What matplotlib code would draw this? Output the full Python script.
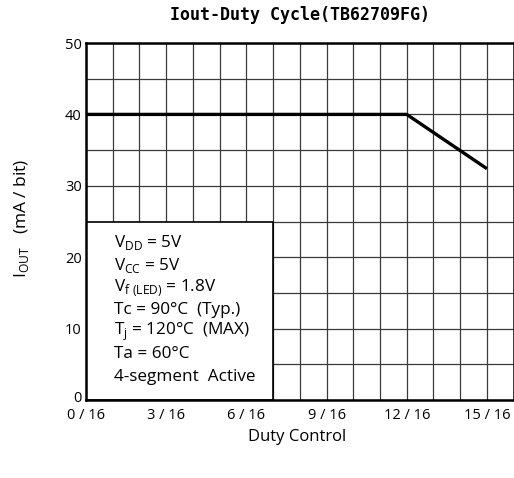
import matplotlib
matplotlib.use("Agg")
import matplotlib.pyplot as plt
from matplotlib.patches import Rectangle
from matplotlib.transforms import ScaledTranslation

duty = [0, 12, 15]
iout = [40, 40, 32.4]
xtick_pos = [0, 3, 6, 9, 12, 15]
xtick_labels = ["0 / 16", "3 / 16", "6 / 16", "9 / 16", "12 / 16", "15 / 16"]
ytick_pos = [0, 10, 20, 30, 40, 50]
cond_lines = [
    r"V$_{\rm DD}$ = 5V",
    r"V$_{\rm CC}$ = 5V",
    r"V$_{\rm f\ (LED)}$ = 1.8V",
    "Tc = 90°C  (Typ.)",
    r"T$_{\rm j}$ = 120°C  (MAX)",
    "Ta = 60°C",
    "4-segment  Active",
]

plt.rcParams['font.family'] = ['Open Sans', 'DejaVu Sans']
plt.rcParams['mathtext.fontset'] = 'custom'
plt.rcParams['mathtext.rm'] = 'Open Sans'

fig = plt.figure(figsize=(5.14, 4.78), dpi=100)
ax = fig.add_axes([0.1673, 0.1632, 0.832, 0.7468])
ax.set_xlim(0, 16)
ax.set_ylim(0, 50)

ax.set_xticks(xtick_pos)
ax.set_xticklabels(xtick_labels, fontsize=10.5)
ax.set_xticks(range(0, 17), minor=True)
ax.set_yticks(ytick_pos)
ax.set_yticklabels([str(v) for v in ytick_pos], fontsize=10.5)
ax.set_yticks(range(5, 50, 10), minor=True)
ax.tick_params(which='both', length=0)
ax.tick_params(axis='x', pad=6)
ax.tick_params(axis='y', pad=3)
ax.set_axisbelow(True)
ax.grid(which='both', color='#3a3a3a', linewidth=0.9)

# nudge the y "0" label up slightly so it does not touch "0 / 16"
zero_lbl = ax.get_yticklabels()[0]
zero_lbl.set_transform(zero_lbl.get_transform() +
                       ScaledTranslation(0, 3 / 100, fig.dpi_scale_trans))

ax.add_patch(Rectangle((0, 0), 7, 25, facecolor='white', edgecolor='black',
                       linewidth=1.2, zorder=1))

ax.plot(duty, iout, color='black', linewidth=2.4, zorder=3, solid_capstyle='butt')

for s in ax.spines.values():
    s.set_linewidth(1.8)
    s.set_zorder(4)

y0 = 243
for i, t in enumerate(cond_lines):
    yp = y0 + i * 22.3
    fig.text(114 / 514, 1 - yp / 478, t, fontsize=12.3, va='center', ha='left')

fig.text(300 / 514, 1 - 15 / 478, "Iout-Duty Cycle(TB62709FG)", fontsize=12,
         fontweight='bold', family=['DejaVu Sans Mono'], ha='center', va='center')
fig.text(297 / 514, 1 - 437 / 478, "Duty Control", fontsize=12, ha='center', va='center')
fig.text(22 / 514, 1 - 218 / 478, r"I$_{\rm OUT}$   (mA / bit)", fontsize=12.5,
         ha='center', va='center', rotation=90)

fig.savefig("out.png", dpi=100)
